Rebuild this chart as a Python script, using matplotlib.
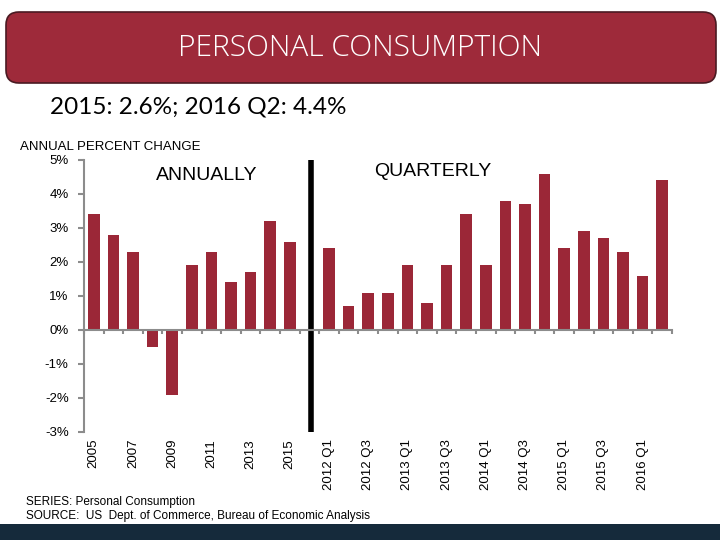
import matplotlib
matplotlib.use("Agg")
import matplotlib.pyplot as plt
from matplotlib.patches import FancyBboxPatch, Rectangle

# ---- data ----
annual_labels = ["2005", "2006", "2007", "2008", "2009", "2010", "2011", "2012", "2013", "2014", "2015"]
annual_values = [3.4, 2.8, 2.3, -0.5, -1.9, 1.9, 2.3, 1.4, 1.7, 3.2, 2.6]
quarter_labels = ["2012 Q1", "2012 Q2", "2012 Q3", "2012 Q4",
                  "2013 Q1", "2013 Q2", "2013 Q3", "2013 Q4",
                  "2014 Q1", "2014 Q2", "2014 Q3", "2014 Q4",
                  "2015 Q1", "2015 Q2", "2015 Q3", "2015 Q4",
                  "2016 Q1", "2016 Q2"]
quarter_values = [2.4, 0.7, 1.1, 1.1, 1.9, 0.8, 1.9, 3.4, 1.9, 3.8, 3.7, 4.6,
                  2.4, 2.9, 2.7, 2.3, 1.6, 4.4]
y_ticks = [-3, -2, -1, 0, 1, 2, 3, 4, 5]
y_tick_labels = ["-3%", "-2%", "-1%", "0%", "1%", "2%", "3%", "4%", "5%"]

BAR = "#9B2737"
GRAY = "#8C8C8C"

fig = plt.figure(figsize=(7.2, 5.4), dpi=100)
fig.patch.set_facecolor("white")

# title box
box = FancyBboxPatch((6 / 720, 1 - 83 / 540), 710 / 720, 71 / 540,
                     boxstyle="round,pad=0,rounding_size=0.018",
                     transform=fig.transFigure, facecolor="#9E2A3A",
                     edgecolor="#4A1A22", linewidth=1.2, mutation_aspect=720 / 540)
fig.patches.append(box)
fig.text(360 / 720, 1 - 48 / 540, "PERSONAL CONSUMPTION", color="white",
         fontsize=21.5, family="Open Sans", fontweight="light",
         ha="center", va="center")
fig.text(50 / 720, 1 - 107 / 540, "2015: 2.6%; 2016 Q2: 4.4%", color="black",
         fontsize=17.5, family="Lato", ha="left", va="center")
fig.text(20 / 720, 1 - 147 / 540, "ANNUAL PERCENT CHANGE", fontsize=9.5,
         family="Liberation Sans", ha="left", va="center")

# bottom band
fig.patches.append(Rectangle((0, 0), 1, 16 / 540, transform=fig.transFigure,
                             facecolor="#152A3B", edgecolor="none"))
fig.text(26 / 720, 1 - 502 / 540, "SERIES: Personal Consumption", fontsize=8.5,
         family="Liberation Sans", ha="left", va="center")
fig.text(26 / 720, 1 - 516 / 540,
         "SOURCE:  US  Dept. of Commerce, Bureau of Economic Analysis",
         fontsize=8.5, family="Liberation Sans", ha="left", va="center")

ax = fig.add_axes([84 / 720, 1 - 432 / 540, 588 / 720, 272 / 540])
n_a = len(annual_values)
xa = list(range(n_a))
gap = n_a
xq = [n_a + 1 + i for i in range(len(quarter_values))]
total = n_a + 1 + len(quarter_values)

ax.bar(xa, annual_values, width=0.6, color=BAR)
ax.bar(xq, quarter_values, width=0.6, color=BAR)
ax.plot([gap + 0.1, gap + 0.1], [y_ticks[0], y_ticks[-1]], color="black",
        linewidth=4, solid_capstyle="butt")

ax.set_xlim(-0.5, total - 0.5)
ax.set_ylim(y_ticks[0], y_ticks[-1])
ax.set_yticks(y_ticks)
ax.set_yticklabels(y_tick_labels, family="Liberation Sans", fontsize=9.5)
ax.tick_params(axis="y", length=4, color=GRAY, width=1.5, pad=7)

ax.spines["top"].set_visible(False)
ax.spines["right"].set_visible(False)
ax.spines["left"].set_color(GRAY)
ax.spines["left"].set_linewidth(1.5)
ax.spines["bottom"].set_position(("data", 0))
ax.spines["bottom"].set_color(GRAY)
ax.spines["bottom"].set_linewidth(1.5)
ax.set_xticks([i - 0.5 for i in range(total + 1)])
ax.tick_params(axis="x", labelbottom=False, length=3, color=GRAY, width=1.5,
               direction="out")

# category labels at the bottom
pos = [xa[i] for i in range(0, n_a, 2)] + [xq[i] for i in range(0, len(xq), 2)]
labs = [annual_labels[i] for i in range(0, n_a, 2)] + \
       [quarter_labels[i] for i in range(0, len(xq), 2)]
sec = ax.secondary_xaxis("bottom")
sec.set_xticks(pos)
sec.set_xticklabels(labs, rotation=90, family="Liberation Sans", fontsize=9.5,
                    va="top", ha="center")
sec.tick_params(length=0, pad=5)
sec.spines["bottom"].set_visible(False)

ax.text(5.75, 4.53, "ANNUALLY", fontsize=14, family="Liberation Sans",
        ha="center", va="center")
ax.text(17.3, 4.65, "QUARTERLY", fontsize=14, family="Liberation Sans",
        ha="center", va="center")

fig.savefig("out.png", dpi=100)
